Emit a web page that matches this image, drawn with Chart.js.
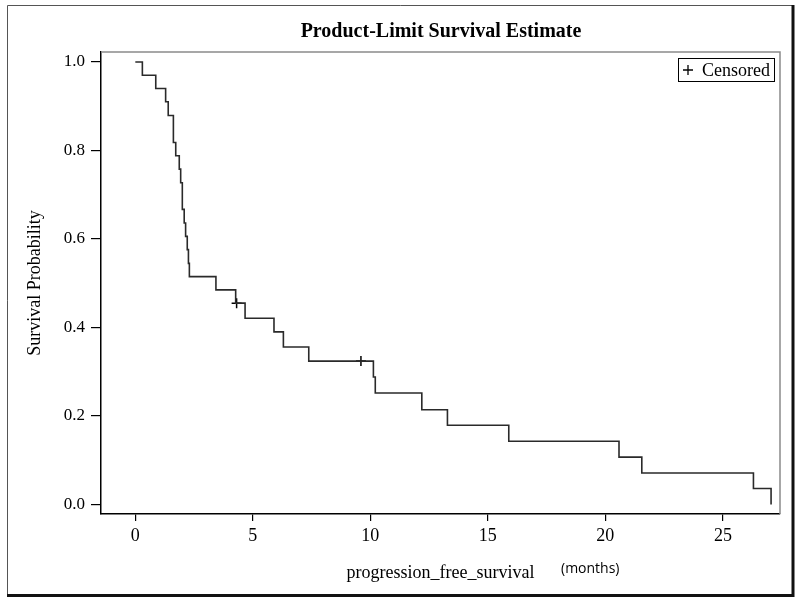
<!DOCTYPE html>
<html>
<head>
<meta charset="utf-8">
<script src="https://cdn.jsdelivr.net/npm/chart.js"></script>
<style>
  html, body { margin:0; padding:0; background:#fff; }
  #wrap { width:800px; height:603px; }
</style>
</head>
<body>
<div id="wrap"><canvas id="km" width="800" height="603"></canvas></div>
<script>
// ===== Datos =====
const chartTitle = 'Product-Limit Survival Estimate';
const xTitle = 'progression_free_survival';
const xUnit = '(months)';
const yTitle = 'Survival Probability';
const legendLabel = 'Censored';

// tiempos de evento (meses) y nivel de supervivencia después de cada caída
const times    = [0, 0.30, 0.87, 1.29, 1.40, 1.62, 1.72, 1.87, 1.93, 2.00, 2.08, 2.14, 2.21, 2.26, 2.30,
                  3.43, 4.27, 4.67, 5.90, 6.30, 7.38, 10.13, 10.21, 12.19, 13.28, 15.89, 20.58, 21.55, 26.30, 27.05];
const survival = [1.000, 0.970, 0.940, 0.910, 0.879, 0.818, 0.788, 0.758, 0.727, 0.667, 0.636, 0.606, 0.576, 0.545, 0.515,
                  0.485, 0.455, 0.421, 0.390, 0.356, 0.324, 0.288, 0.252, 0.214, 0.179, 0.143, 0.107, 0.071, 0.036, 0.000];

// observaciones censuradas
const censorTimes = [4.31, 9.60];
const censorSurv  = [0.455, 0.324];

// ticks
const xTicks = [0, 5, 10, 15, 20, 25];
const yTicks = [0, 0.2, 0.4, 0.6, 0.8, 1.0];

(function(){
  const SERIF = '"Liberation Serif", "Times New Roman", serif';

  // marco exterior, título, leyenda y unidad del eje x
  const decor = {
    id: 'decor',
    beforeDraw(chart){
      const { ctx } = chart;
      ctx.save();
      ctx.fillStyle = '#fff';
      ctx.fillRect(0, 0, chart.width, chart.height);
      // marco exterior: fino arriba/izquierda, grueso abajo/derecha
      ctx.strokeStyle = '#555';
      ctx.lineWidth = 1;
      ctx.beginPath();
      ctx.moveTo(7.5, 596); ctx.lineTo(7.5, 5.5); ctx.lineTo(793, 5.5);
      ctx.stroke();
      ctx.strokeStyle = '#111';
      ctx.lineWidth = 3;
      ctx.beginPath();
      ctx.moveTo(793, 5); ctx.lineTo(793, 595.5); ctx.lineTo(7, 595.5);
      ctx.stroke();
      ctx.restore();
    },
    afterDraw(chart){
      const { ctx, chartArea: a } = chart;
      ctx.save();
      // borde gris superior y derecho del área del gráfico
      ctx.strokeStyle = '#8a8a8a';
      ctx.lineWidth = 1.5;
      ctx.beginPath();
      ctx.moveTo(a.left, a.top); ctx.lineTo(a.right, a.top); ctx.lineTo(a.right, a.bottom);
      ctx.stroke();

      // título
      ctx.fillStyle = '#000';
      ctx.font = 'bold 20px ' + SERIF;
      ctx.textAlign = 'center';
      ctx.textBaseline = 'middle';
      ctx.fillText(chartTitle, 441, 32);

      // unidad del eje x
      ctx.font = '14px "Open Sans", "Liberation Sans", sans-serif';
      ctx.textAlign = 'left';
      ctx.fillText(xUnit, 561, 569);

      // leyenda
      const bx = 678, by = 58, bw = 96, bh = 23;
      ctx.fillStyle = '#fff';
      ctx.fillRect(bx, by, bw, bh);
      ctx.strokeStyle = '#000';
      ctx.lineWidth = 1;
      ctx.strokeRect(bx + 0.5, by + 0.5, bw, bh);
      const cx = 688, cy = by + bh / 2 + 0.5;
      ctx.lineWidth = 1.3;
      ctx.beginPath();
      ctx.moveTo(cx - 5, cy); ctx.lineTo(cx + 5, cy);
      ctx.moveTo(cx, cy - 5); ctx.lineTo(cx, cy + 5);
      ctx.stroke();
      ctx.fillStyle = '#000';
      ctx.font = '18px ' + SERIF;
      ctx.textBaseline = 'middle';
      ctx.fillText(legendLabel, 702, cy + 1);
      ctx.restore();
    }
  };

  const linePts = times.map((t, i) => ({ x: t, y: survival[i] }));
  const censPts = censorTimes.map((t, i) => ({ x: t, y: censorSurv[i] }));

  new Chart(document.getElementById('km'), {
    data: {
      datasets: [
        {
          type: 'line',
          label: 'Survival',
          data: linePts,
          stepped: 'before',
          borderColor: '#2a2a2a',
          borderWidth: 1.6,
          pointRadius: 0,
          fill: false
        },
        {
          type: 'scatter',
          label: legendLabel,
          data: censPts,
          pointStyle: 'cross',
          pointRadius: 5,
          borderColor: '#000',
          borderWidth: 1.5,
          backgroundColor: '#000'
        }
      ]
    },
    options: {
      responsive: false,
      animation: false,
      devicePixelRatio: 1,
      layout: { padding: { left: 0, top: 52, right: 20, bottom: 0 } },
      plugins: {
        legend: { display: false },
        title: { display: false },
        tooltip: { enabled: false }
      },
      scales: {
        x: {
          type: 'linear',
          position: 'bottom',
          min: -1.46,
          max: 27.43,
          afterBuildTicks: (s) => { s.ticks = xTicks.map(v => ({ value: v })); },
          afterFit: (s) => { s.height = 89; },
          ticks: { color: '#000', font: { family: SERIF, size: 18 }, padding: 4, maxRotation: 0,
                   callback: (v) => String(v) },
          grid: { drawOnChartArea: false, drawTicks: true, tickLength: 7, color: '#000', lineWidth: 1.2 },
          border: { display: true, color: '#000', width: 1.5 },
          title: { display: true, text: xTitle, color: '#000', font: { family: SERIF, size: 18 },
                   padding: { top: 0, bottom: 19 } }
        },
        y: {
          type: 'linear',
          position: 'left',
          min: -0.0215,
          max: 1.0226,
          afterBuildTicks: (s) => { s.ticks = yTicks.map(v => ({ value: v })); },
          afterFit: (s) => { s.width = 101; },
          ticks: { color: '#000', font: { family: SERIF, size: 17 }, padding: 6,
                   callback: (v) => Number(v).toFixed(1) },
          grid: { drawOnChartArea: false, drawTicks: true, tickLength: 10, color: '#000', lineWidth: 1.2 },
          border: { display: true, color: '#000', width: 1.5 },
          title: { display: true, text: yTitle, color: '#000', font: { family: SERIF, size: 18 },
                   padding: { top: 24, bottom: 0 } }
        }
      }
    },
    plugins: [decor]
  });
})();
</script>
</body>
</html>
